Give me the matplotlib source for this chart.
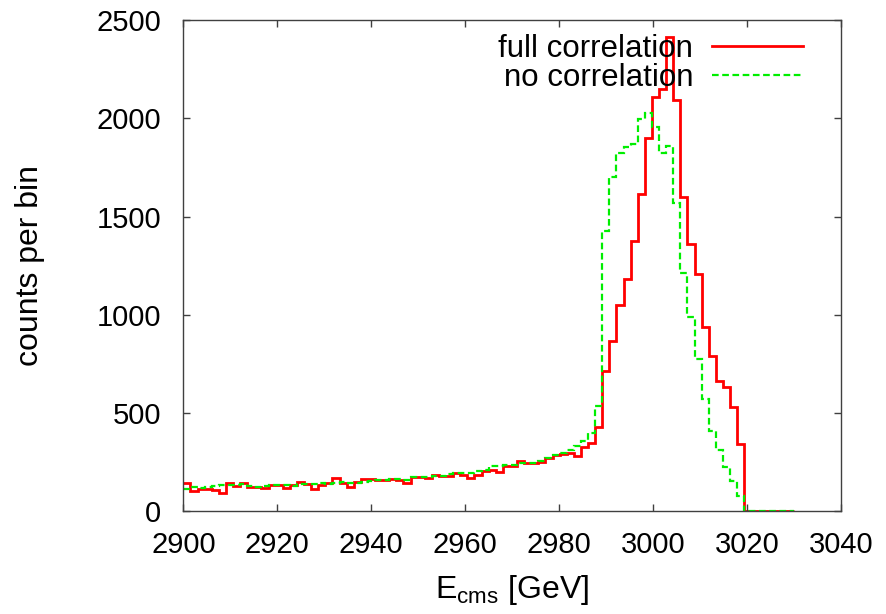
import numpy as np
import matplotlib
matplotlib.use("Agg")
import matplotlib.pyplot as plt

plt.rcParams['font.family'] = ['Liberation Sans', 'DejaVu Sans']

#Histogram bins, 86 bins between 2900 and 3030 GeV
bin_edges = np.linspace(2900, 3030, 87)

#Counts per bin
full_corr = [143, 105, 112, 115, 109, 96, 143, 130, 143, 126,
             126, 121, 135, 135, 121, 135, 148, 140, 114, 135,
             143, 169, 143, 126, 152, 165, 165, 160, 160, 165,
             160, 147, 177, 177, 169, 186, 181, 181, 197, 186,
             172, 186, 206, 211, 203, 231, 231, 257, 248, 248,
             253, 270, 287, 290, 296, 284, 330, 350, 431, 716,
             865, 1050, 1183, 1377, 1613, 1898, 2110, 2149, 2415, 2093,
             1601, 1359, 1207, 938, 791, 662, 632, 530, 345, 3,
             0, 0, 0, 0, 0, 0]
no_corr = [114, 124, 121, 124, 130, 135, 133, 135, 138, 128,
           126, 130, 133, 135, 136, 132, 138, 140, 141, 143,
           140, 145, 148, 146, 143, 150, 157, 160, 160, 163,
           165, 160, 177, 177, 177, 181, 181, 191, 194, 194,
           194, 206, 211, 231, 231, 235, 237, 248, 248, 248,
           257, 270, 287, 296, 313, 335, 360, 401, 538, 1428,
           1703, 1825, 1853, 1868, 1995, 2029, 1957, 1825, 1859, 1568,
           1212, 988, 774, 571, 411, 313, 225, 155, 79, 4,
           0, 0, 0, 0, 0, 0]

x_ticks = [2900, 2920, 2940, 2960, 2980, 3000, 3020, 3040]
y_ticks = [0, 500, 1000, 1500, 2000, 2500]

fig = plt.figure(figsize=(8.87, 6.14), dpi=100)
ax = fig.add_axes([0.2067, 0.167, 0.7413, 0.8004])

ax.stairs(full_corr, bin_edges, baseline=None, color='#ff0000', linewidth=2.0,
          label='full correlation')
ax.stairs(no_corr, bin_edges, baseline=None, color='#00ee00', linewidth=1.6,
          linestyle=(0, (3, 1.6)), label='no correlation')

ax.set_xlim(2900, 3040)
ax.set_ylim(0, 2500)
ax.set_xticks(x_ticks)
ax.set_yticks(y_ticks)
ax.tick_params(direction='in', top=True, right=True, length=5, width=1,
               color='#404040', labelsize=21)
ax.tick_params(axis='x', pad=14)
ax.tick_params(axis='y', pad=16)
for s in ax.spines.values():
    s.set_color('#404040')
    s.set_linewidth(1.0)

ax.set_xlabel('E$_{\\mathregular{cms}}$ [GeV]', fontsize=23)
ax.set_ylabel('counts per bin', fontsize=23)
ax.xaxis.set_label_coords(0.5, -0.125)
ax.yaxis.set_label_coords(-0.21, 0.5)

ax.legend(loc='upper right', bbox_to_anchor=(0.942, 0.972), frameon=False,
          markerfirst=False, fontsize=22.5, handlelength=2.9, handletextpad=0.6,
          labelspacing=-0.02, borderpad=0, borderaxespad=0)

fig.savefig('out.png', dpi=100)
